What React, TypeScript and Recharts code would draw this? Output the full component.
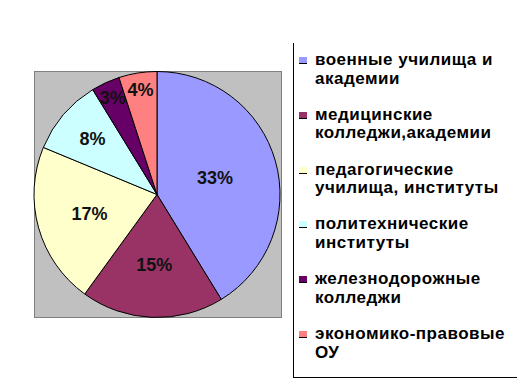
import React from 'react';
import { Cell, Legend, Pie, PieChart } from 'recharts';

const categories = [
  'военные училища и академии',
  'медицинские колледжи,академии',
  'педагогические училища, институты',
  'политехнические институты',
  'железнодорожные колледжи',
  'экономико-правовые ОУ',
];
const shares = [33, 15, 17, 8, 3, 4];
const sliceColors = ['#9999FF', '#993366', '#FFFFCC', '#CCFFFF', '#660066', '#FF8080'];

const chartData = categories.map((name, i) => ({ name, value: shares[i] }));

const FONT = '"Liberation Sans", Arial, sans-serif';
const RAD = Math.PI / 180;

// Excel pushes labels outward on the narrow slices
const labelRadius = (sweep: number) => {
  if (sweep > 100) return 0.49;
  if (sweep > 60) return 0.57;
  if (sweep > 30) return 0.69;
  return 0.86;
};

const renderLabel = (props: any) => {
  const { cx, cy, midAngle, outerRadius, percent, value } = props;
  const r = outerRadius * labelRadius(percent * 360);
  const x = cx + r * Math.cos(-midAngle * RAD);
  const y = cy + r * Math.sin(-midAngle * RAD);
  return (
    <text
      x={x}
      y={y}
      textAnchor="middle"
      dominantBaseline="central"
      fontFamily={FONT}
      fontWeight="bold"
      fontSize={18}
      fill="#111"
    >
      {`${value}%`}
    </text>
  );
};

const LegendBox = () => (
  <div
    style={{
      position: 'relative',
      width: 230,
      height: 334,
      borderLeft: '1px solid #000',
      borderBottom: '1px solid #000',
      fontFamily: FONT,
      fontWeight: 'bold',
      fontSize: 17,
      letterSpacing: 0.5,
      lineHeight: '18.5px',
      color: '#000',
    }}
  >
    {chartData.map((d, i) => (
      <div
        key={d.name}
        style={{ position: 'absolute', left: 0, top: 8 + i * 54.8, width: 230 }}
      >
        <span
          style={{
            position: 'absolute',
            left: 5,
            top: 6,
            width: 8,
            height: 6,
            background: sliceColors[i],
            borderBottom: '1px solid #000',
          }}
        />
        <div style={{ marginLeft: 21, width: 200 }}>{d.name}</div>
      </div>
    ))}
  </div>
);

export default function App() {
  return (
    <div style={{ position: 'absolute', left: 0, top: 0, width: 517, height: 390, background: '#fff' }}>
      <div
        style={{
          position: 'absolute',
          left: 34,
          top: 71,
          width: 246,
          height: 245,
          background: '#C0C0C0',
          border: '1px solid #808080',
        }}
      />
      <div style={{ position: 'absolute', left: 0, top: 0 }}>
        <PieChart width={517} height={390} margin={{ top: 0, right: 0, bottom: 0, left: 0 }}>
          <Pie
            data={chartData}
            dataKey="value"
            nameKey="name"
            cx={157}
            cy={194.5}
            outerRadius={123}
            startAngle={90}
            endAngle={-270}
            stroke="#000"
            strokeWidth={1}
            label={renderLabel}
            labelLine={false}
            isAnimationActive={false}
          >
            {chartData.map((d, i) => (
              <Cell key={d.name} fill={sliceColors[i]} />
            ))}
          </Pie>
          <Legend
            content={() => <LegendBox />}
            wrapperStyle={{ position: 'absolute', left: 293, top: 43, width: 230, height: 335, bottom: 'auto' }}
          />
        </PieChart>
      </div>
    </div>
  );
}
